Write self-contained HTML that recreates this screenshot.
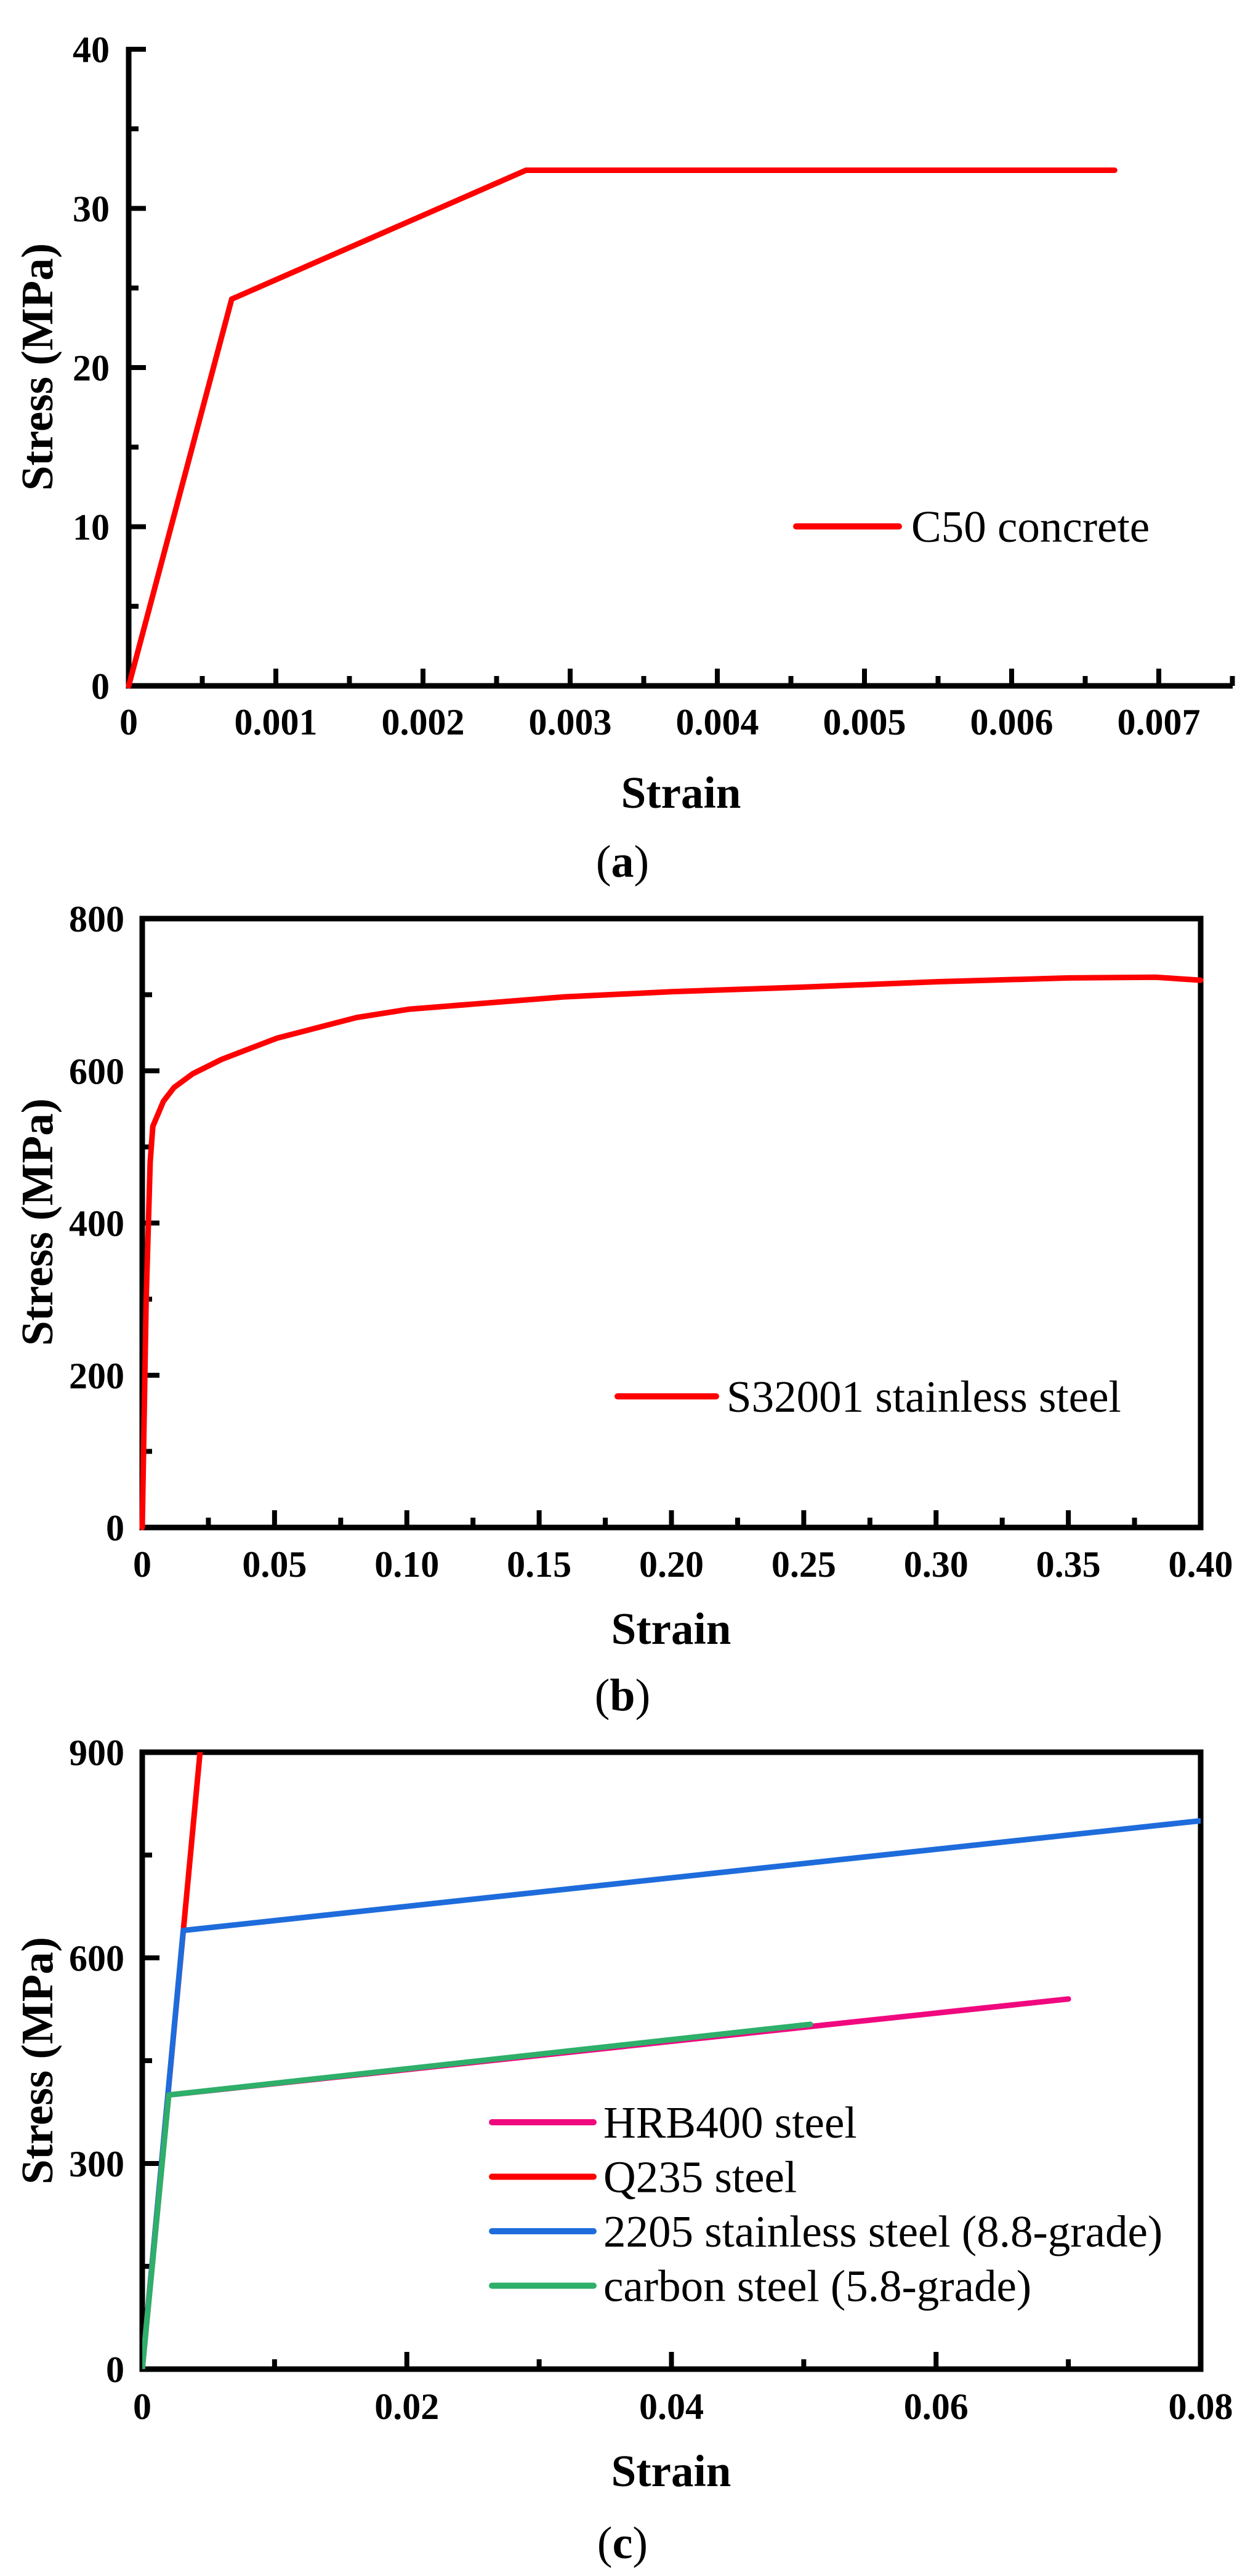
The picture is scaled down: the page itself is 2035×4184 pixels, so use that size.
<!DOCTYPE html>
<html><head><meta charset="utf-8"><style>
html,body{margin:0;padding:0;background:#fff;}
svg{display:block;}
text{font-family:"Liberation Serif",serif;}
</style></head><body>
<svg id="fig" width="2035" height="4184" viewBox="0 0 2035 4184" xmlns="http://www.w3.org/2000/svg"></svg>
<script>
// ---- Data ----
const aStrain = [0, 0.0007, 0.0027, 0.0067];
const aStress = [0, 24.3, 32.4, 32.4];
const aXTicks = ["0","0.001","0.002","0.003","0.004","0.005","0.006","0.007"];
const aYTicks = ["0","10","20","30","40"];

const bStrain = [0,0.0015,0.003,0.004,0.008,0.012,0.019,0.03,0.051,0.081,0.101,0.159,0.2,0.25,0.3,0.35,0.383,0.4];
const bStress = [0,300,480,527,560,578,596,615,643,670,681,697,704,710,717,722,723,719];
const bXTicks = ["0","0.05","0.10","0.15","0.20","0.25","0.30","0.35","0.40"];
const bYTicks = ["0","200","400","600","800"];

const cQ235Strain = [0, 0.00437];
const cQ235Stress = [0, 900];
const c2205Strain = [0, 0.0031, 0.08];
const c2205Stress = [0, 640, 800];
const cHRBStrain = [0, 0.002, 0.07];
const cHRBStress = [0, 400, 540];
const cCarbonStrain = [0, 0.002, 0.0505];
const cCarbonStress = [0, 400, 503];
const cXTicks = ["0","0.02","0.04","0.06","0.08"];
const cYTicks = ["0","300","600","900"];

const NS = "http://www.w3.org/2000/svg";
const svg = document.getElementById("fig");
function el(tag, attrs, parent){const e=document.createElementNS(NS,tag);for(const k in attrs)e.setAttribute(k,attrs[k]);(parent||svg).appendChild(e);return e;}
function txt(s, attrs, parent){const e=el("text",attrs,parent);e.textContent=s;return e;}
function lin(x0,x1,p0,p1){return v=>p0+(v-x0)/(x1-x0)*(p1-p0);}

function drawPath(xs, ys, X, Y, color, name, g){
  let d="";
  for(let i=0;i<xs.length;i++){d+=(i?"L":"M")+X(xs[i]).toFixed(1)+" "+Y(ys[i]).toFixed(1);}
  const p=el("path",{d:d,fill:"none",stroke:color,"stroke-width":9,"stroke-linejoin":"round","stroke-linecap":"round"},g);
  
  
}

function axes(cfg){
  const g=el("g",{});
  
  
  const {X,Y,L,R,T,B}=cfg;
  if(cfg.frame){
    const f=el("rect",{x:L,y:T,width:R-L,height:B-T,fill:"none",stroke:"#000","stroke-width":9},g);
    
    
  } else {
    const ya=el("line",{x1:L,y1:T,x2:L,y2:B+4.5,stroke:"#000","stroke-width":9},g);
    
    
    const xa=el("line",{x1:L-4.5,y1:B,x2:R,y2:B,stroke:"#000","stroke-width":9},g);
    
    
  }
  // x ticks
  cfg.xt.forEach((lab,i)=>{
    const v=parseFloat(lab); const x=X(v);
    if(i>0 && v<cfg.xmaxTick+1e-9){el("line",{x1:x,y1:B,x2:x,y2:B-28,stroke:"#000","stroke-width":8},g);}
    const t=txt(lab,{x:x,y:cfg.xLabY,"font-size":60,"font-weight":"bold","text-anchor":"middle"},g);
    
    
  });
  for(let k=0;k<cfg.xMinor.length;k++){const x=X(cfg.xMinor[k]);el("line",{x1:x,y1:B,x2:x,y2:B-16,stroke:"#000","stroke-width":8},g);}
  cfg.yt.forEach((lab,i)=>{
    const v=parseFloat(lab); const y=Y(v);
    if(i>0){el("line",{x1:L,y1:y,x2:L+28,y2:y,stroke:"#000","stroke-width":8},g);}
    const t=txt(lab,{x:cfg.yLabX,y:y+21,"font-size":60,"font-weight":"bold","text-anchor":"end"},g);
    
    
  });
  for(let k=0;k<cfg.yMinor.length;k++){const y=Y(cfg.yMinor[k]);el("line",{x1:L,y1:y,x2:L+16,y2:y,stroke:"#000","stroke-width":8},g);}
  const xt=txt("Strain",{x:cfg.xTitleX,y:cfg.xTitleY,"font-size":73,"font-weight":"bold","text-anchor":"middle"},g);
  
  
  const yt=txt("Stress (MPa)",{x:0,y:0,"font-size":73,"font-weight":"bold","text-anchor":"middle",transform:`translate(85,${cfg.yTitleY}) rotate(-90)`},g);
  
  
  const cap=el("text",{x:1011,y:cfg.capY,"font-size":74,"text-anchor":"middle"},g);
  
  
  const t1=el("tspan",{},cap);t1.textContent="(";
  const t2=el("tspan",{"font-weight":"bold"},cap);t2.textContent=cfg.letter;
  const t3=el("tspan",{},cap);t3.textContent=")";
  return g;
}

function legend(g, items, x0, x1, tx, y0, dy){
  items.forEach((it,i)=>{
    const y=y0+i*dy;
    const l=el("line",{x1:x0,y1:y,x2:x1,y2:y,stroke:it[1],"stroke-width":10,"stroke-linecap":"round"},g);
    
    
    const t=txt(it[0],{x:tx,y:y+25,"font-size":73},g);
    
    
  });
}

// ---- Panel (a) ----
{
  const L=209,B=1114,T=76,R=2002;
  const X=lin(0,0.001,L,448), Y=lin(0,10,B,855.5);
  const g=axes({name:"panel-a",X,Y,L,R,T,B,frame:false,xt:aXTicks,yt:aYTicks,xmaxTick:0.007,
    xMinor:[0.0005,0.0015,0.0025,0.0035,0.0045,0.0055,0.0065,0.0075],yMinor:[5,15,25,35],
    xLabY:1193,yLabX:178,xTitleX:1106,xTitleY:1312,yTitleY:596,capY:1424,letter:"a"});
  drawPath(aStrain,aStress,X,Y,"#ff0000","c50-concrete-curve",g);
  legend(g,[["C50 concrete","#ff0000"]],1293,1460,1480,855,0);
}
// ---- Panel (b) ----
{
  const L=231,R=1950,T=1492,B=2481;
  const X=lin(0,0.4,L,R), Y=lin(0,800,B,T);
  const g=axes({name:"panel-b",X,Y,L,R,T,B,frame:true,xt:bXTicks,yt:bYTicks,xmaxTick:0.399,
    xMinor:[0.025,0.075,0.125,0.175,0.225,0.275,0.325,0.375],yMinor:[100,300,500,700],
    xLabY:2561,yLabX:202,xTitleX:1090,xTitleY:2670,yTitleY:1985,capY:2778,letter:"b"});
  drawPath(bStrain,bStress,X,Y,"#ff0000","s32001-curve",g);
  legend(g,[["S32001 stainless steel","#ff0000"]],1003,1163,1180,2268,0);
}
// ---- Panel (c) ----
{
  const L=231,R=1950,T=2846,B=3848;
  const X=lin(0,0.08,L,R), Y=lin(0,900,B,T);
  const g=axes({name:"panel-c",X,Y,L,R,T,B,frame:true,xt:cXTicks,yt:cYTicks,xmaxTick:0.079,
    xMinor:[0.01,0.03,0.05,0.07],yMinor:[150,450,750],
    xLabY:3929,yLabX:202,xTitleX:1090,xTitleY:4038,yTitleY:3347,capY:4155,letter:"c"});
  const clip=el("clipPath",{id:"clipc"},g);
  el("rect",{x:L,y:T,width:R-L,height:B-T},clip);
  const pg=el("g",{"clip-path":"url(#clipc)"},g);
  
  
  drawPath(cQ235Strain,cQ235Stress,X,Y,"#ff0000","q235-curve",pg);
  drawPath(c2205Strain,c2205Stress,X,Y,"#1e6cdc","stainless-2205-curve",pg);
  drawPath(cHRBStrain,cHRBStress,X,Y,"#f0087f","hrb400-curve",pg);
  drawPath(cCarbonStrain,cCarbonStress,X,Y,"#2eaf6a","carbon-steel-curve",pg);
  legend(g,[["HRB400 steel","#f0087f"],["Q235 steel","#ff0000"],["2205 stainless steel (8.8-grade)","#1e6cdc"],["carbon steel (5.8-grade)","#2eaf6a"]],799,964,980,3447,88.5);
}
</script>
</body></html>
